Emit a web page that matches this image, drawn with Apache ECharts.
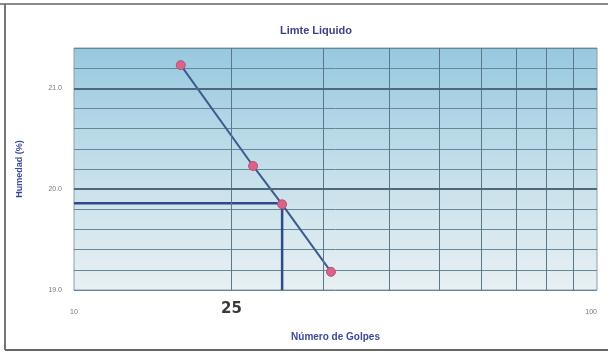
<!DOCTYPE html>
<html>
<head>
<meta charset="utf-8">
<script src="https://cdn.jsdelivr.net/npm/echarts@6/dist/echarts.min.js"></script>
<style>
  html, body { margin: 0; padding: 0; background: #fff; }
  #chart { width: 608px; height: 354px; }
</style>
</head>
<body>
<div id="chart"></div>
<script>
// puntos del ensayo
const golpes = [16, 22, 25, 31];
const humedad = [21.23, 20.23, 19.85, 19.18];
// humedad a 25 golpes (proyeccion)
const golpes25 = 25;
const humedad25 = 19.86;
// grilla
const xGridLines = [20, 30, 40, 50, 60, 70, 80, 90];
const yMajorLines = [20, 21];
const yMin = 19.0, yMax = 21.4, xMin = 10, xMax = 100;

const chart = echarts.init(document.getElementById('chart'));

const gridLine = { color: '#66869a', width: 1 };

chart.setOption({
  animation: false,
  title: {
    text: 'Limte Liquido',
    left: 311, top: 20, textAlign: 'center',
    textStyle: { fontFamily: 'Liberation Sans', fontSize: 11, fontWeight: 'bold', color: '#3d418c' }
  },
  grid: {
    left: 74, right: 11, top: 48, bottom: 64,
    show: true,
    borderColor: '#8aa0ac', borderWidth: 1,
    backgroundColor: new echarts.graphic.LinearGradient(0, 0, 0, 1, [
      { offset: 0, color: '#97c8e0' },
      { offset: 0.5, color: '#c4dfea' },
      { offset: 1, color: '#e8f0f3' }
    ])
  },
  xAxis: {
    type: 'log', logBase: 10, min: xMin, max: xMax,
    name: 'Número de Golpes', nameLocation: 'middle', nameGap: 42,
    nameTextStyle: { fontFamily: 'Liberation Sans', fontSize: 10, fontWeight: 'bold', color: '#3a4b9c' },
    axisLine: { show: false },
    axisTick: { show: false },
    axisLabel: { margin: 19, fontSize: 7, color: '#777', fontFamily: 'Liberation Sans', alignMaxLabel: 'right' },
    splitLine: { show: false }
  },
  yAxis: {
    type: 'value', min: yMin, max: yMax, interval: 0.2,
    name: 'Humedad (%)', nameLocation: 'middle', nameGap: 50, nameRotate: 90,
    nameTextStyle: { fontFamily: 'Liberation Sans', fontSize: 9, fontWeight: 'bold', color: '#3a4b9c' },
    axisLine: { show: false },
    axisTick: { show: false },
    axisLabel: {
      margin: 12, fontSize: 7, color: '#777', fontFamily: 'Liberation Sans',
      formatter: v => Math.abs(v - Math.round(v)) < 1e-6 ? v.toFixed(1) : ''
    },
    splitLine: { show: true, lineStyle: gridLine }
  },
  graphic: [
    { type: 'text', left: 221, top: 302,
      style: { text: '25', fontFamily: 'DejaVu Sans', fontSize: 15, fontWeight: 'bold', fill: '#3a3a3a' } },
    { type: 'line', shape: { x1: 0, y1: 4, x2: 608, y2: 4 }, style: { stroke: '#8a8a8a', lineWidth: 2 } },
    { type: 'line', shape: { x1: 5, y1: 4, x2: 5, y2: 350 }, style: { stroke: '#777', lineWidth: 2 } },
    { type: 'line', shape: { x1: 5, y1: 350, x2: 608, y2: 350 }, style: { stroke: '#666', lineWidth: 2 } }
  ],
  series: [
    {
      name: 'grilla', type: 'line', data: [], silent: true,
      markLine: {
        silent: true, symbol: 'none', label: { show: false },
        lineStyle: { color: '#5a7888', width: 1, type: 'solid' },
        data: xGridLines.map(v => ({ xAxis: v })).concat(
          yMajorLines.map(v => ({ yAxis: v, lineStyle: { color: '#4e6a7a', width: 2.2, type: 'solid' } })))
      }
    },
    {
      name: 'proyeccion', type: 'line', showSymbol: false, silent: true, z: 3,
      lineStyle: { color: '#2e4a88', width: 2.5 },
      data: [[xMin, humedad25], [golpes25, humedad25], [golpes25, yMin]]
    },
    {
      name: 'Humedad', type: 'line', z: 4,
      data: golpes.map((g, i) => [g, humedad[i]]),
      symbol: 'circle', symbolSize: 9,
      lineStyle: { color: '#3c5b8f', width: 2 },
      itemStyle: { color: '#d8648a', borderColor: '#c24d74', borderWidth: 1 }
    }
  ]
});
</script>
</body>
</html>
